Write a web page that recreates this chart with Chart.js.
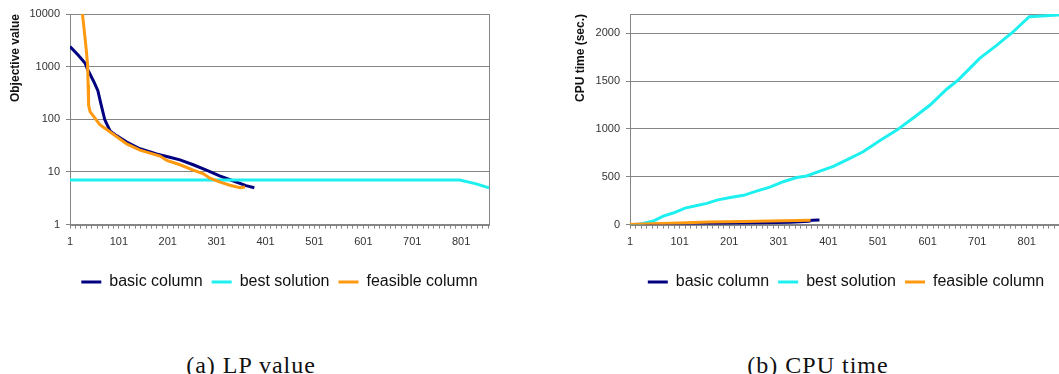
<!DOCTYPE html>
<html lang="en">
<head>
<meta charset="UTF-8">
<title>LP value / CPU time</title>
<script src="https://cdn.jsdelivr.net/npm/chart.js@4.4.1/dist/chart.umd.min.js"></script>
<style>
    body {
        margin: 0;
        width: 1059px;
        height: 374px;
        overflow: hidden;
        position: relative;
        background: #fff;
        font-family: "Liberation Sans", Arial, sans-serif;
    }
    .panel {
        position: absolute;
        top: 0;
        height: 300px;
        overflow: hidden;
    }
    .inner {
        position: relative;
        height: 300px;
    }
    .caption {
        position: absolute;
        top: 353px;
        font-family: "Liberation Serif", "Times New Roman", serif;
        font-size: 24px;
        line-height: 24px;
        letter-spacing: 1px;
        color: #111;
        white-space: nowrap;
        transform: translateX(-50%);
    }
</style>
</head>
<body>
    <div class="panel" style="left:0; width:530px;">
        <div class="inner" style="width:530px;"><canvas id="lpChart"></canvas></div>
    </div>
    <div class="panel" style="left:530px; width:529px;">
        <div class="inner" style="width:545px;"><canvas id="cpuChart"></canvas></div>
    </div>
    <div class="caption" style="left:251px;">(a) LP value</div>
    <div class="caption" style="left:818px;">(b) CPU time</div>

<script>
// series names and x axis labels
const seriesNames = ['basic column', 'best solution', 'feasible column'];
const xTickLabels = [1, 101, 201, 301, 401, 501, 601, 701, 801];

// (a) LP value, log scale
const lpTicks = [1, 10, 100, 1000, 10000];
const basicLpIter = [1, 18, 32, 36, 49, 58, 64, 72, 83, 96, 117, 144, 178, 205, 226, 253, 280, 307, 334, 361, 378];
const basicLp = [2400, 1650, 1160, 930, 535, 350, 200, 99, 60, 49, 37, 27.6, 21.9, 19, 17, 13.7, 10.8, 8.4, 6.8, 5.5, 5.0];
const bestLpIter = [1, 798, 830, 858];
const bestLp = [7, 7, 6, 5];
const feasLpIter = [26, 30, 34, 37, 38, 39, 42, 52, 62, 76, 96, 117, 144, 185, 199, 226, 253, 274, 287, 308, 328, 349, 359];
const feasLp = [11000, 5000, 2200, 1080, 460, 186, 140, 105, 79, 64, 47, 34, 26, 20, 16.5, 13.7, 10.8, 9.2, 7.6, 6.4, 5.6, 5.0, 5.2];

// (b) CPU time (sec.)
const cpuTicks = [0, 500, 1000, 1500, 2000];
const basicCpuIter = [1, 100, 170, 245, 325, 362, 368, 383];
const basicCpu = [0, 5, 10, 17, 25, 35, 46, 47];
const bestCpuIter = [1, 15, 25, 48, 68, 88, 112, 136, 156, 176, 203, 230, 256, 283, 310, 337, 357, 384, 411, 438, 471, 505, 539, 572, 606, 640, 663, 706, 740, 772, 806, 872];
const bestCpu = [0, 0, 10, 37, 88, 121, 172, 199, 222, 256, 283, 306, 350, 391, 448, 492, 508, 559, 609, 677, 761, 879, 987, 1114, 1249, 1417, 1512, 1737, 1872, 2007, 2172, 2192];
const feasCpuIter = [1, 50, 100, 160, 230, 310, 365];
const feasCpu = [0, 8, 18, 26, 33, 40, 45];

const colors = ['#000080', '#1ef0f0', '#ff9a10'];
const GRID = '#858585';

const frame = {
    id: 'frame',
    beforeDatasetsDraw(chart) {
        const a = chart.chartArea;
        const ctx = chart.ctx;
        ctx.save();
        ctx.strokeStyle = GRID;
        ctx.lineWidth = 1;
        ctx.strokeRect(Math.round(a.left) + 0.5, Math.round(a.top) + 0.5,
            Math.round(a.right) - Math.round(a.left), Math.round(a.bottom) - Math.round(a.top));
        ctx.restore();
    }
};

function pts(xs, ys) {
    return xs.map((x, i) => ({ x: x, y: ys[i] }));
}

function makeChart(id, cfg) {
    const series = [cfg.basic, cfg.best, cfg.feas];
    return new Chart(document.getElementById(id), {
        type: 'line',
        data: {
            datasets: series.map((s, i) => ({
                label: seriesNames[i],
                data: s,
                borderColor: colors[i],
                backgroundColor: colors[i],
                borderWidth: 3,
                pointRadius: 0,
                tension: 0,
                order: 2 - i
            }))
        },
        plugins: [frame],
        options: {
            responsive: true,
            maintainAspectRatio: false,
            animation: false,
            layout: { padding: { top: 14, right: cfg.padRight, bottom: 0, left: 0 } },
            plugins: {
                tooltip: { enabled: false },
                legend: {
                    position: 'bottom',
                    fullSize: false,
                    title: { display: true, text: '', padding: { top: 8, bottom: 0 }, font: { size: 1 } },
                    labels: {
                        boxWidth: 20,
                        boxHeight: 3,
                        padding: 9,
                        color: '#111',
                        font: { family: '"Liberation Sans", Arial, sans-serif', size: 16 },
                        sort: (a, b) => a.datasetIndex - b.datasetIndex,
                        generateLabels(chart) {
                            return Chart.defaults.plugins.legend.labels.generateLabels(chart)
                                .map(l => Object.assign(l, { lineWidth: 0, fillStyle: l.strokeStyle }));
                        }
                    }
                }
            },
            scales: {
                x: {
                    type: 'linear',
                    min: 1,
                    max: cfg.xMax,
                    afterBuildTicks(axis) {
                        const t = [];
                        for (let k = 0; 1 + k * 100 / 9 <= cfg.xMax; k++) t.push({ value: 1 + k * 100 / 9 });
                        axis.ticks = t;
                    },
                    grid: { drawOnChartArea: false, tickLength: 4, color: GRID },
                    border: { color: GRID },
                    ticks: {
                        autoSkip: false,
                        maxRotation: 0,
                        padding: 7,
                        color: '#333',
                        font: { family: 'Arial, sans-serif', size: 11 },
                        callback(v) {
                            const r = Math.round(v);
                            return (Math.abs(v - r) < 1e-6 && xTickLabels.includes(r)) ? String(r) : '';
                        }
                    }
                },
                y: {
                    type: cfg.yType,
                    min: cfg.yMin,
                    max: cfg.yMax,
                    afterBuildTicks(axis) {
                        axis.ticks = cfg.yTicks.map(v => ({ value: v }));
                    },
                    afterFit(axis) {
                        axis.width = cfg.yWidth;
                    },
                    grid: { color: GRID, tickLength: 4 },
                    border: { color: GRID },
                    ticks: {
                        padding: 6,
                        color: '#333',
                        font: { family: 'Arial, sans-serif', size: 11 },
                        callback: v => String(v)
                    },
                    title: {
                        display: true,
                        text: cfg.yTitle,
                        align: 'end',
                        color: '#111',
                        padding: { top: cfg.titlePad, bottom: 0 },
                        font: { family: 'Arial, sans-serif', size: 12, weight: 'bold' }
                    }
                }
            }
        }
    });
}

makeChart('lpChart', {
    basic: pts(basicLpIter, basicLp),
    best: pts(bestLpIter, bestLp),
    feas: pts(feasLpIter, feasLp),
    yType: 'logarithmic', yMin: 1, yMax: 10000, yTicks: lpTicks,
    yTitle: 'Objective value', yWidth: 70, titlePad: 8,
    xMax: 858, padRight: 41
});

makeChart('cpuChart', {
    basic: pts(basicCpuIter, basicCpu),
    best: pts(bestCpuIter, bestCpu),
    feas: pts(feasCpuIter, feasCpu),
    yType: 'linear', yMin: 0, yMax: 2200, yTicks: cpuTicks,
    yTitle: 'CPU time (sec.)', yWidth: 100, titlePad: 43,
    xMax: 872, padRight: 13
});
</script>
</body>
</html>
